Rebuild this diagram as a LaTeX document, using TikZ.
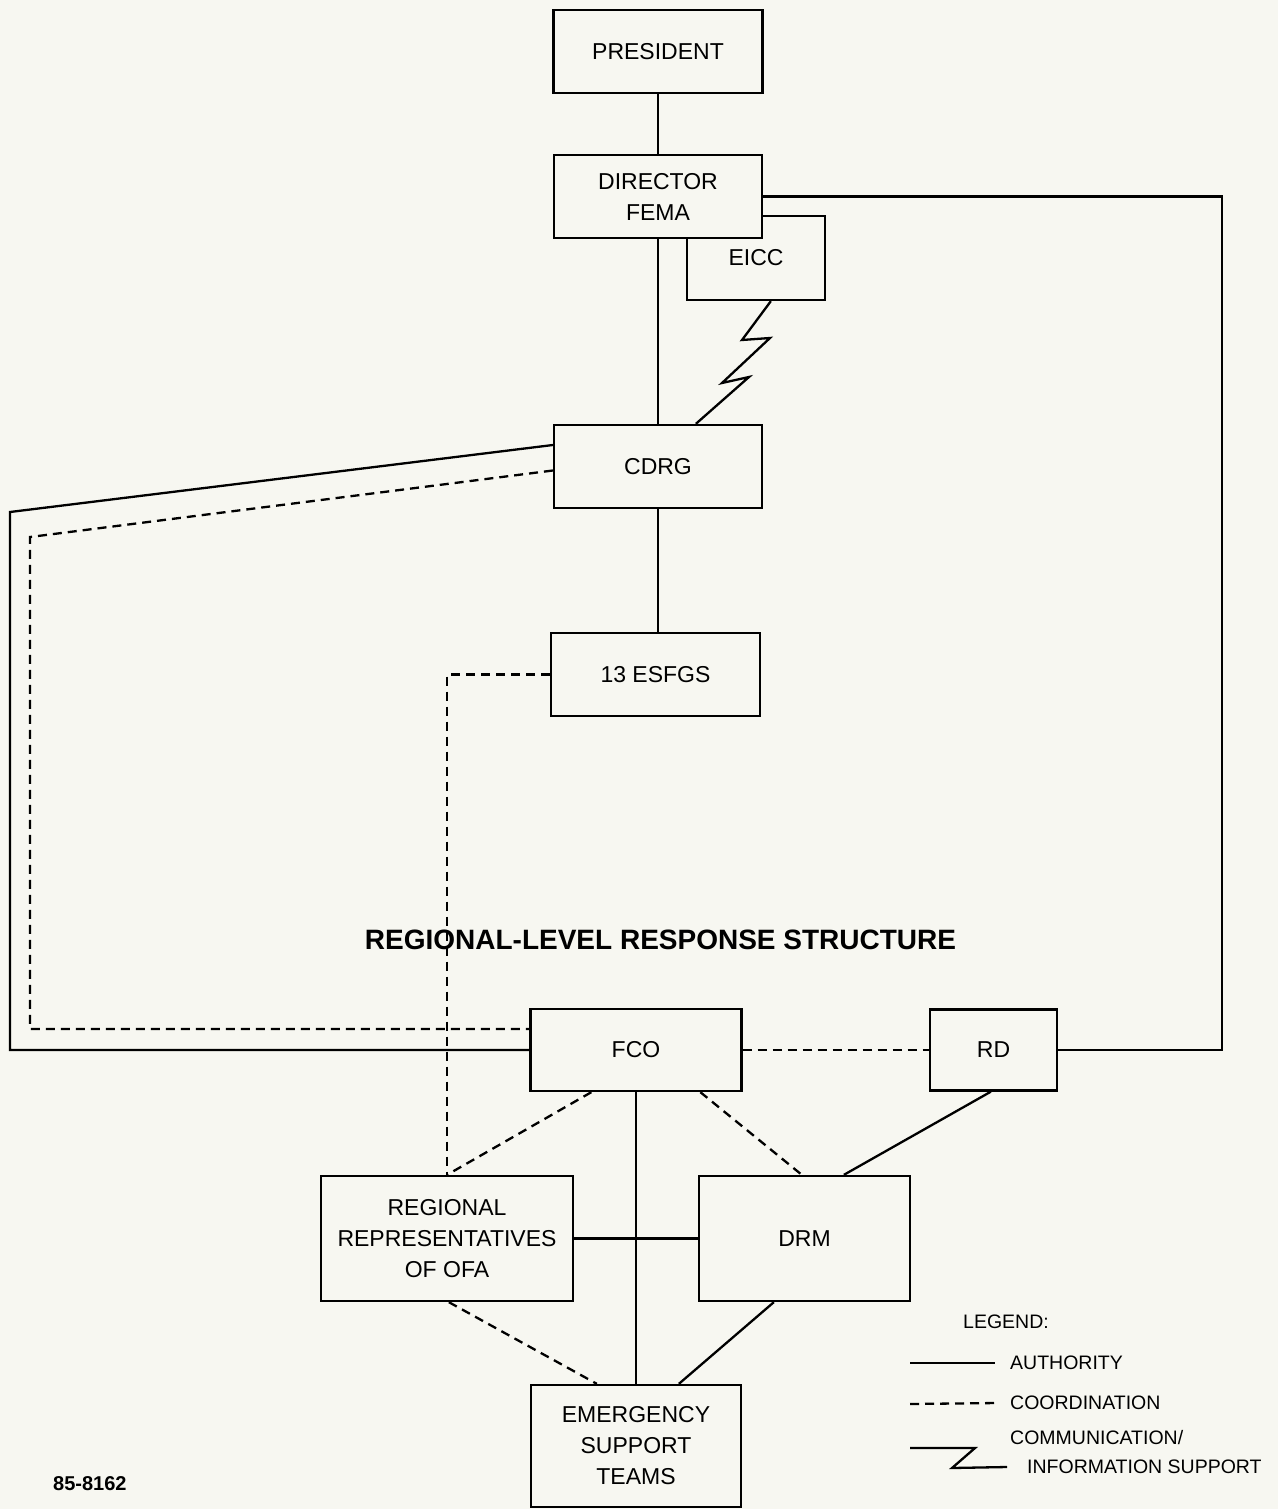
\documentclass[tikz,border=0pt]{standalone}
\usepackage{fontspec}
\setmainfont{Liberation Sans}
\usetikzlibrary{calc}
\definecolor{paper}{RGB}{247,247,241}
\tikzset{
  box/.style={draw, line width=2.3pt, fill=paper, inner sep=0pt, align=center,
    font=\fontsize{23}{31}\selectfont},
  auth/.style={line width=2.3pt},
  coordline/.style={line width=2.3pt, dash pattern=on 9pt off 6pt},
  comm/.style={line width=2.3pt, line join=miter},
  legtext/.style={anchor=west, inner sep=0pt, font=\fontsize{19.5}{21}\selectfont}
}
\begin{document}
\begin{tikzpicture}[x=1pt,y=-1pt]
\fill[paper] (0,0) rectangle (1278,1509);
\useasboundingbox (0,0) rectangle (1278,1509);

% boxes
\node[box, minimum width=138pt, minimum height=84pt] (eicc) at (756,258) {EICC};
\node[box, minimum width=209pt, minimum height=83pt] (pres) at (658,51.5) {PRESIDENT};
\node[box, minimum width=208pt, minimum height=83pt] (dir) at (658,196.5) {DIRECTOR\\FEMA};
\node[box, minimum width=208pt, minimum height=83pt] (cdrg) at (658,466.5) {CDRG};
\node[box, minimum width=209pt, minimum height=83pt] (esfgs) at (655.5,674.5) {13 ESFGS};
\node[box, minimum width=211pt, minimum height=82pt] (fco) at (636,1050) {FCO};
\node[box, minimum width=127pt, minimum height=81pt] (rd) at (993.5,1050) {RD};
\node[box, minimum width=252pt, minimum height=125pt] (rro) at (447,1238.5) {REGIONAL\\REPRESENTATIVES\\OF OFA};
\node[box, minimum width=211pt, minimum height=125pt] (drm) at (804.5,1238.5) {DRM};
\node[box, minimum width=210pt, minimum height=122pt] (est) at (636,1446) {EMERGENCY\\SUPPORT\\TEAMS};

% title
\node[font=\bfseries\fontsize{28}{30}\selectfont] (title) at (660.5,940) {REGIONAL-LEVEL RESPONSE STRUCTURE};

% authority lines
\draw[auth] (pres.south) -- (dir.north);
\draw[auth] (dir.south) -- (cdrg.north);
\draw[auth] (cdrg.south) -- (cdrg.south |- esfgs.north);
\coordinate (rcorner) at (1222,196.5);
\draw[auth] (dir.east) -- (rcorner) |- (rd.east);
\draw[auth] ($(cdrg.west)+(0,-21.5)$) -- (10,512) -- (10,1050) -- (fco.west);
\draw[auth] (fco.south) -- (est.north);
\draw[auth] ($(rd.south west)+(62,0)$) -- ($(drm.north west)+(146,0)$);
\draw[auth] (rro.east) -- (drm.west);
\draw[auth] ($(drm.south west)+(76,0)$) -- ($(est.north west)+(149,0)$);

% coordination lines
\draw[coordline] ($(cdrg.west)+(0,4)$) -- (30,537) -- (30,1029) -- ($(fco.west)+(0,-21)$);
\draw[coordline] (esfgs.west) -| (rro.north);
\draw[coordline] (fco.east) -- (rd.west);
\draw[coordline] ($(fco.south west)+(62,0)$) -- (rro.north);
\draw[coordline] ($(fco.south west)+(171,0)$) -- ($(drm.north west)+(104,0)$);
\draw[coordline] ($(rro.south west)+(129,0)$) -- ($(est.north west)+(67,0)$);

% communication / information support
\draw[comm] ($(eicc.south west)+(85,0)$) -- (742,340) -- (770,338) -- (722,383) -- (749,377) -- ($(cdrg.north west)+(143,0)$);

% legend
\node[legtext] (leg) at (963,1322) {LEGEND:};
\node[legtext] (authtxt) at (1010,1363) {AUTHORITY};
\coordinate (a1) at (910,1363);
\draw[auth] (a1) -- ([xshift=-15pt]authtxt.west);
\node[legtext] (coordtxt) at (1010,1403) {COORDINATION};
\coordinate (c1) at (910,1404);
\draw[coordline] (c1) -- ([xshift=-13pt]coordtxt.west);
\node[legtext] (commtxt) at (1010,1438) {COMMUNICATION/};
\node[legtext] (infotxt) at (1027,1467) {INFORMATION SUPPORT};
\coordinate (z1) at (910,1448);
\draw[comm] (z1) -- (975,1448) -- (952,1468) -- ([xshift=-20pt]infotxt.west);

% code
\node[anchor=west, inner sep=0pt, font=\bfseries\fontsize{20}{21}\selectfont] (code) at (53,1484) {85-8162};
\end{tikzpicture}
\end{document}
